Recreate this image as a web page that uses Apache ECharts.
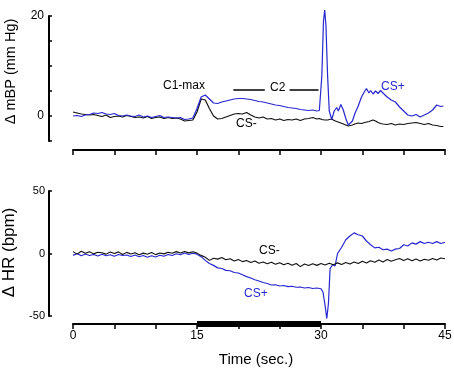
<!DOCTYPE html>
<html><head><meta charset="utf-8">
<script src="https://cdn.jsdelivr.net/npm/echarts@6/dist/echarts.min.js"></script>
<style>html,body{margin:0;padding:0;background:#fff}#c{width:454px;height:372px}</style>
</head><body><div id="c"></div>
<script>
// ---- Top panel: Δ mBP (mm Hg) ----
const bpTime = [0,0.5,1,1.5,2,2.5,3,3.5,4,4.5,5,5.5,6,6.5,7,7.5,8,8.5,9,9.5,10,10.5,11,11.5,12,12.5,13,13.5,14,14.5,15,15.5,16,16.5,17,17.5,18,18.5,19,19.5,20,20.5,21,21.5,22,22.5,23,23.5,24,24.5,25,25.5,26,26.5,27,27.5,28,28.5,29,29.5,29.8,30.1,30.3,30.45,30.6,30.8,31,31.3,31.6,31.9,32.1,32.4,32.7,33,33.3,33.5,33.8,34.1,34.5,34.9,35.3,35.5,35.8,36,36.3,36.6,36.9,37.2,37.5,38,38.5,39,39.5,40,40.5,41,41.5,42,42.5,43,43.5,44,44.5,44.8];
const bpCSplus = [0.0,0.1,-0.1,0.2,0.3,0.6,0.5,0.7,0.4,0.3,0.5,0.1,0.0,0.2,0.0,-0.1,0.2,-0.2,0.0,-0.3,-0.1,0.1,-0.3,-0.2,-0.3,-0.4,-0.3,-0.7,-0.6,-0.4,1.5,3.8,4.2,3.4,2.6,2.5,2.8,3.0,3.2,3.4,3.5,3.5,3.4,3.3,3.1,2.9,2.8,2.6,2.4,2.2,2.1,1.9,1.7,1.6,1.5,1.3,1.2,1.1,1.2,1.0,1.1,8,19,21.2,18,8,1,-0.7,1.0,1.7,1.0,2.3,1.2,-0.5,-1.8,-2.2,-1.0,0.5,2.0,3.8,5.0,5.5,4.6,5.1,4.4,5.0,4.5,5.1,4.6,3.8,3.2,2.8,1.8,1.0,0.2,0.0,0.3,-0.2,0.2,0.6,1.2,2.2,1.9,2.0];
const bpCSminus = [0.8,0.6,0.4,0.3,0.2,0.3,0.1,-0.1,0.2,-0.3,-0.1,0.0,-0.2,0.1,-0.1,-0.3,-0.2,-0.4,-0.1,-0.5,-0.3,-0.2,-0.5,-0.3,-0.5,-0.4,-0.6,-1.0,-0.9,-0.8,0.8,3.4,3.2,1.5,0.0,-0.6,-0.5,-0.2,0.1,0.4,0.5,0.4,0.7,0.2,-0.2,-0.4,-0.2,-0.6,-0.5,-0.8,-0.6,-0.9,-0.7,-0.8,-0.6,-0.9,-0.6,-0.5,-0.3,-0.6,-0.5,-0.7,-0.9,-0.8,-1.0,-0.8,-1.0,-0.6,-0.9,-1.1,-1.3,-1.4,-1.6,-1.8,-2.0,-2.0,-1.8,-1.6,-1.4,-1.5,-1.3,-1.4,-1.1,-0.9,-0.8,-1.0,-1.3,-1.5,-1.6,-1.7,-1.5,-1.8,-1.6,-1.7,-1.5,-1.4,-1.3,-1.5,-1.7,-1.5,-1.8,-1.9,-2.1,-2.1];
const c2Left = [[19.4,5.2],[23.2,5.2]];
const c2Right = [[26.2,5.2],[29.7,5.2]];

// ---- Bottom panel: Δ HR (bpm) ----
const hrTimeMinus = [0,0.5,1,1.5,2,2.5,3,3.5,4,4.5,5,5.5,6,6.5,7,7.5,8,8.5,9,9.5,10,10.5,11,11.5,12,12.5,13,13.5,14,14.5,15,15.5,16,16.5,17,17.5,18,18.5,19,19.5,20,20.5,21,21.5,22,22.5,23,23.5,24,24.5,25,25.5,26,26.5,27,27.5,28,28.5,29,29.5,30,30.5,31,31.5,32,32.5,33,33.5,34,34.5,35,35.5,36,36.5,37,37.5,38,38.5,39,39.5,40,40.5,41,41.5,42,42.5,43,43.5,44,44.5,45];
const hrCSminus = [1.5,-0.5,1.8,0.2,1.4,-0.3,1.0,0.6,-0.5,1.2,0.0,1.3,-0.8,0.9,-0.4,0.6,-1.0,0.3,-0.6,0.8,-0.9,0.4,-0.3,1.0,0.2,1.5,0.4,1.6,0.5,1.4,0.3,-1.5,-3.0,-5.5,-3.8,-4.5,-3.2,-5.0,-4.2,-6.0,-4.8,-6.5,-5.6,-7.2,-6.0,-7.8,-6.8,-8.2,-7.0,-8.6,-7.4,-9.0,-7.8,-9.4,-8.0,-10.5,-8.4,-9.6,-8.2,-9.5,-8.0,-9.2,-7.8,-9.0,-7.5,-8.8,-7.2,-8.4,-6.8,-8.0,-6.2,-7.6,-5.8,-7.0,-5.2,-6.8,-4.8,-6.2,-5.0,-4.0,-5.6,-4.2,-5.8,-4.4,-6.0,-4.6,-5.4,-4.0,-5.2,-3.6,-4.2];
const hrTimePlus = [0,0.5,1,1.5,2,2.5,3,3.5,4,4.5,5,5.5,6,6.5,7,7.5,8,8.5,9,9.5,10,10.5,11,11.5,12,12.5,13,13.5,14,14.5,15,15.5,16,16.5,17,17.5,18,18.5,19,19.5,20,20.5,21,21.5,22,22.5,23,23.5,24,24.5,25,25.5,26,26.5,27,27.5,28,28.5,29,29.5,30,30.25,30.5,30.7,30.9,31.1,31.4,31.7,32,32.5,33,33.5,34,34.5,35,35.5,36,36.5,37,37.5,38,38.5,39,39.5,40,40.5,41,41.5,42,42.5,43,43.5,44,44.5,45];
const hrCSplus = [-1.5,0.0,-1.8,-0.4,-1.6,-0.8,-2.0,-0.6,-1.8,-1.0,-2.2,-0.8,-1.6,-1.2,-2.4,-1.2,-2.6,-1.6,-3.0,-1.8,-2.8,-1.4,-2.2,-0.8,-1.6,-0.2,-1.0,0.4,-0.8,0.2,-0.6,-2.5,-5.5,-8.0,-9.5,-11.5,-12.0,-13.5,-13.8,-15.2,-15.6,-17.0,-18.5,-19.6,-21.0,-22.0,-23.2,-24.0,-25.2,-25.0,-26.0,-25.6,-26.5,-26.2,-27.0,-26.8,-27.6,-27.2,-28.0,-27.6,-28.2,-31,-42,-52,-40,-12,-9,-10,0,5,11,14,16.5,15,14,10,7,4.5,5,3,3.5,2,3.5,4,7,6,8.5,7.5,9.5,8,9,8,9.5,8,9];
const stimBar = [[15,-56.4],[30,-56.4]];

const xTicks = [0,15,30,45];
const bpTickLabels = [0,20];

const zip = (t, v) => t.map((x, i) => [x, v[i]]);
const BLUE = '#2727d0', BLACK = '#111';
const FONT = 'Liberation Sans, Arial, sans-serif';

const axisLine = {show:true, onZero:false, lineStyle:{color:'#000', width:2}};
const chart = echarts.init(document.getElementById('c'), null, {renderer:'canvas'});
chart.setOption({
  animation:false,
  backgroundColor:'#fff',
  grid:[
    {left:73, right:9, top:16, height:125, outerBoundsMode:'none', containLabel:false},
    {left:73, right:9, top:191, height:125, outerBoundsMode:'none', containLabel:false}
  ],
  xAxis:[
    {gridIndex:0, type:'value', min:0, max:45, interval:5, offset:9,
     axisLine:axisLine, axisTick:{show:true, length:5, lineStyle:{width:1.5,color:'#000'}},
     axisLabel:{show:false}, splitLine:{show:false}},
    {gridIndex:1, type:'value', min:0, max:45, interval:5, offset:8,
     axisLine:axisLine, axisTick:{show:true, length:5, lineStyle:{width:1.5,color:'#000'}},
     axisLabel:{margin:6, fontSize:12, color:'#000', fontFamily:FONT,
       formatter:v => xTicks.includes(v) ? String(v) : ''},
     splitLine:{show:false},
     name:'Time (sec.)', nameLocation:'middle', nameGap:28,
     nameTextStyle:{fontSize:15, color:'#000', fontFamily:FONT, padding:[0,6,0,0]}}
  ],
  yAxis:[
    {gridIndex:0, type:'value', min:-5, max:20, interval:5, offset:24,
     axisLine:axisLine, axisTick:{show:true, inside:true, length:3, lineStyle:{width:1.5,color:'#000'}},
     axisLabel:{margin:5, fontSize:12, color:'#000', fontFamily:FONT,
       formatter:v => bpTickLabels.includes(v) ? String(v) : ''},
     splitLine:{show:false},
     name:'Δ mBP (mm Hg)', nameLocation:'middle', nameGap:31, nameRotate:90,
     nameTextStyle:{fontSize:14.5, color:'#000', fontFamily:FONT, padding:[0,0,0,14]}},
    {gridIndex:1, type:'value', min:-50, max:50, interval:50, offset:24,
     axisLine:axisLine, axisTick:{show:true, inside:true, length:3, lineStyle:{width:1.5,color:'#000'}},
     axisLabel:{margin:4, fontSize:11, color:'#000', fontFamily:FONT},
     splitLine:{show:false},
     name:'Δ HR (bpm)', nameLocation:'middle', nameGap:29, nameRotate:90,
     nameTextStyle:{fontSize:17, color:'#000', fontFamily:FONT, padding:[0,0,0,2]}}
  ],
  series:[
    {type:'line', xAxisIndex:0, yAxisIndex:0, data:zip(bpTime,bpCSminus), showSymbol:false, lineStyle:{color:BLACK,width:1.2}, z:2},
    {type:'line', xAxisIndex:0, yAxisIndex:0, data:zip(bpTime,bpCSplus), showSymbol:false, lineStyle:{color:BLUE,width:1.2}, z:3, clip:false},
    {type:'line', xAxisIndex:0, yAxisIndex:0, data:c2Left, showSymbol:false, lineStyle:{color:'#000',width:1.5}},
    {type:'line', xAxisIndex:0, yAxisIndex:0, data:c2Right, showSymbol:false, lineStyle:{color:'#000',width:1.5}},
    {type:'line', xAxisIndex:1, yAxisIndex:1, data:zip(hrTimeMinus,hrCSminus), showSymbol:false, lineStyle:{color:BLACK,width:1.1}, z:3},
    {type:'line', xAxisIndex:1, yAxisIndex:1, data:zip(hrTimePlus,hrCSplus), showSymbol:false, lineStyle:{color:BLUE,width:1.2}, z:2, clip:false},
    {type:'line', xAxisIndex:1, yAxisIndex:1, data:stimBar, showSymbol:false, clip:false, lineStyle:{color:'#000',width:6, cap:'butt'}, z:5}
  ],
  graphic:[
    {type:'text', left:163, top:80, style:{text:'C1-max', fontSize:12, fill:'#000', fontFamily:FONT}},
    {type:'text', left:270, top:82, style:{text:'C2', fontSize:12, fill:'#000', fontFamily:FONT}},
    {type:'text', left:381, top:81, style:{text:'CS+', fontSize:12, fill:BLUE, fontFamily:FONT}},
    {type:'text', left:236, top:118, style:{text:'CS-', fontSize:12, fill:'#000', fontFamily:FONT}},
    {type:'text', left:259, top:245, style:{text:'CS-', fontSize:12, fill:'#000', fontFamily:FONT}},
    {type:'text', left:244, top:288, style:{text:'CS+', fontSize:12, fill:BLUE, fontFamily:FONT}}
  ]
});
</script></body></html>
